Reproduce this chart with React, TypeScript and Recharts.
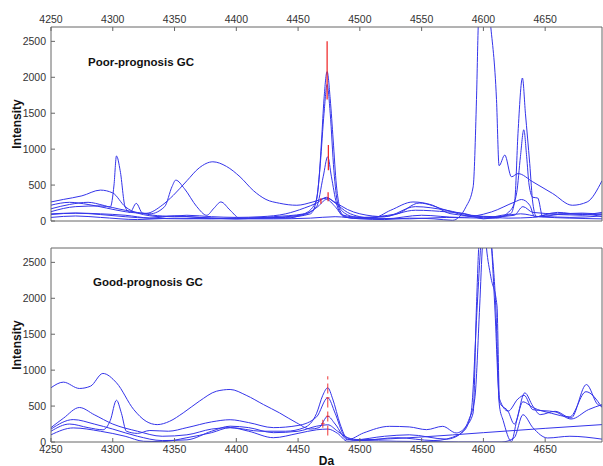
import React from "react";
import { LineChart, Line, XAxis, YAxis, ReferenceLine } from "recharts";

// mass axis (Da) and intensity ticks
const xTicks = [4250, 4300, 4350, 4400, 4450, 4500, 4550, 4600, 4650];
const yTicks = [0, 500, 1000, 1500, 2000, 2500];
const xDomain: [number, number] = [4250, 4696];
const yDomain: [number, number] = [0, 2700];

// poor-prognosis spectra, [Da, intensity]
const poorA = [
  [4250, 100], [4270, 110], [4290, 90], [4310, 60], [4330, 40], [4350, 70], [4370, 50], [4400, 30],
  [4430, 30], [4460, 40], [4480, 60], [4500, 30], [4520, 20], [4540, 40], [4560, 30], [4575, 10],
  [4586, 200], [4591.7, 475], [4594.4, 1690], [4596, 2800], [4600, 3600], [4605.7, 2750],
  [4610.6, 1690], [4612.7, 770], [4617.3, 918], [4622.7, 615], [4628, 660], [4640, 545],
  [4656, 383], [4672, 219], [4684, 265], [4696, 560],
];
const poorB = [
  [4250, 265], [4260, 300], [4275, 350], [4290, 430], [4300, 390], [4310, 200], [4320, 110],
  [4340, 60], [4360, 80], [4380, 60], [4400, 50], [4420, 60], [4440, 100], [4455, 180],
  [4465, 250], [4473, 330], [4480, 250], [4490, 120], [4500, 60], [4510, 40], [4525, 150],
  [4543, 265], [4559, 219], [4573, 103], [4600, 60], [4620, 40], [4640, 50], [4660, 120],
  [4680, 90], [4696, 120],
];
const poorC = [
  [4250, 170], [4265, 230], [4280, 260], [4292, 220], [4298, 196], [4301, 500], [4303, 905],
  [4306, 700], [4310, 196], [4314, 120], [4319, 245], [4324, 110], [4340, 70], [4360, 60],
  [4380, 40], [4400, 30], [4430, 60], [4455, 100], [4465, 200], [4470.3, 615], [4474, 894],
  [4477, 615], [4481, 250], [4486, 80], [4495, 40], [4520, 30], [4550, 80], [4580, 50],
  [4606.5, 126], [4625.4, 265], [4630.8, 299], [4637.5, 219], [4641.6, 56], [4650, 80],
  [4680, 100], [4696, 60],
];
const poorD = [
  [4250, 130], [4270, 200], [4290, 210], [4310, 150], [4330, 100], [4342, 200], [4348, 480],
  [4351, 569], [4358, 450], [4368, 200], [4376, 80], [4382, 180], [4387.5, 265], [4395, 150],
  [4403, 37], [4420, 40], [4440, 40], [4455, 100], [4464, 250], [4467, 600], [4469, 1127],
  [4471, 1700], [4473.5, 2080], [4476, 1700], [4478.4, 1127], [4481, 500], [4485, 150],
  [4495, 60], [4510, 40], [4540, 30], [4570, 50], [4600, 40], [4615, 80], [4622, 100],
  [4625.4, 290], [4628, 1220], [4631.6, 1990], [4634, 1500], [4637.5, 800], [4640, 250],
  [4643, 60], [4650, 60], [4670, 50], [4696, 70],
];
const poorE = [
  [4250, 220], [4265, 260], [4280, 230], [4295, 180], [4310, 130], [4327, 107], [4340, 220],
  [4349, 357], [4360, 560], [4370, 740], [4381, 824], [4392, 760], [4403, 615], [4414, 420],
  [4424, 300], [4435, 247], [4449, 219], [4462, 265], [4473, 317], [4480, 260], [4490, 160],
  [4500, 100], [4520, 60], [4545, 200], [4570, 150], [4590, 80], [4610, 60], [4625, 80],
  [4632, 200], [4640, 120], [4660, 100], [4680, 110], [4696, 90],
];
const poorF = [
  [4250, 90], [4270, 110], [4290, 100], [4310, 80], [4330, 40], [4360, 30], [4400, 40],
  [4440, 50], [4460, 100], [4465, 300], [4468, 800], [4471, 1500], [4473.5, 1900],
  [4476, 1500], [4479, 700], [4482, 250], [4487, 80], [4500, 50], [4530, 100], [4548, 250],
  [4570, 150], [4590, 60], [4610, 40], [4622, 150], [4627, 400], [4630, 900], [4632.7, 1270],
  [4635, 900], [4637, 500], [4640, 330], [4644, 320], [4648, 60], [4660, 90], [4680, 80],
  [4696, 100],
];
const poorG = [
  [4250, 50], [4270, 70], [4290, 50], [4320, 20], [4350, 40], [4380, 30], [4420, 40],
  [4455, 90], [4466, 200], [4473, 300], [4480, 200], [4487, 60], [4495, 40], [4520, 60],
  [4545, 150], [4571, 126], [4585, 103], [4600, 30], [4630, 100], [4645, 60], [4670, 40],
  [4696, 30],
];

// good-prognosis spectra
const goodA = [
  [4250, 755], [4260, 833], [4273, 745], [4282, 777], [4292, 954], [4303, 824], [4317, 451],
  [4327, 288], [4336, 242], [4346, 288], [4357, 405], [4370, 567], [4384, 707], [4395, 731],
  [4408, 650], [4422, 521], [4435, 405], [4449, 265], [4460, 180], [4467, 200], [4474, 358],
  [4480, 250], [4490, 32], [4503, 126], [4524, 218], [4540, 210], [4554, 172], [4567, 218],
  [4578, 126], [4586, 218], [4591.7, 405], [4594.4, 1894], [4596.5, 2800], [4602, 3500],
  [4606.5, 2750], [4609.2, 1894], [4613.2, 545], [4620, 427], [4625, 250], [4633.5, 684],
  [4640, 500], [4646, 381], [4658, 427], [4671, 335], [4683.4, 800], [4692.6, 521], [4696, 500],
];
const goodB = [
  [4250, 200], [4260, 330], [4273, 480], [4285, 380], [4300, 250], [4320, 150], [4340, 80],
  [4360, 100], [4380, 180], [4395, 200], [4420, 150], [4440, 150], [4455, 200], [4465, 400],
  [4470, 650], [4474, 755], [4478, 600], [4484, 250], [4490, 40], [4500, 20], [4530, 60],
  [4560, 20], [4580, 100], [4588, 300], [4593, 600], [4597, 1894], [4599.3, 2750],
  [4601, 3000], [4602.5, 2700], [4606, 2300], [4611, 1894], [4613, 600], [4620, 430],
  [4628, 600], [4633, 650], [4640, 450], [4658, 420], [4671, 320], [4685, 450], [4696, 520],
];
const goodC = [
  [4250, 150], [4265, 250], [4280, 200], [4292, 170], [4298, 300], [4303, 581], [4307, 400],
  [4311, 150], [4320, 120], [4330, 160], [4345, 150], [4360, 200], [4380, 280], [4395, 310],
  [4410, 270], [4430, 200], [4450, 230], [4465, 350], [4474, 615], [4480, 400], [4487, 100],
  [4495, 30], [4520, 80], [4540, 100], [4570, 40], [4584, 150], [4590, 400], [4595, 1894],
  [4597.9, 2750], [4602, 3300], [4606.5, 2750], [4610, 1894], [4613, 500], [4616, 300],
  [4622.7, 8], [4627, 300], [4632, 560], [4640, 480], [4655, 400], [4670, 350], [4683, 700],
  [4696, 480],
];
const goodD = [
  [4250, 180], [4268, 312], [4285, 250], [4300, 180], [4320, 80], [4340, 20], [4360, 30],
  [4380, 150], [4395, 220], [4410, 200], [4430, 130], [4450, 150], [4465, 220], [4474, 240],
  [4482, 150], [4490, 60], [4500, 32], [4550, 70], [4600, 130], [4650, 190], [4696, 242],
];
const goodE = [
  [4250, 100], [4268, 196], [4290, 150], [4310, 80], [4325, 10], [4340, 5], [4360, 60],
  [4380, 130], [4395, 200], [4410, 150], [4430, 60], [4450, 120], [4465, 170], [4474, 180],
  [4482, 120], [4490, 10], [4500, 20], [4530, 10], [4560, 5], [4580, 0], [4600, 0],
  [4615, 0], [4625, 60], [4632, 380], [4640, 200], [4652, 56], [4670, 80], [4696, 40],
];

// red marker bars [Da, from, to]
const poorMarks = [
  [4473.5, 1690, 2500], [4474.5, 705, 1058], [4474.3, 275, 400], [4468.5, 240, 315],
];
const goodMarks = [[4474, 90, 916], [4470, 200, 311]];
const goodCrosses = [[4474, 615], [4474, 358], [4470, 255]];

const poorSeries = [poorA, poorB, poorC, poorD, poorE, poorF, poorG];
const goodSeries = [goodA, goodB, goodC, goodD, goodE];

const font = "'Liberation Sans', Arial, sans-serif";
const blue = "#3434ea";
const red = "#ee2020";
const axisColor = "#666";
const tickStyle = { fontSize: 10.5, fill: "#333", fontFamily: font };
const toPts = (s: number[][]) => s.map(([x, y]) => ({ x, y }));

function lines(series: number[][][]) {
  return series.map((s, i) => (
    <Line
      key={i}
      data={toPts(s)}
      xAxisId="t"
      yAxisId="l"
      dataKey="y"
      type="monotone"
      stroke={blue}
      strokeWidth={1}
      dot={false}
      isAnimationActive={false}
    />
  ));
}

function yAxes() {
  return [
    <YAxis
      key="l"
      yAxisId="l"
      orientation="left"
      type="number"
      domain={yDomain}
      ticks={yTicks}
      interval={0}
      allowDataOverflow
      width={51}
      tickSize={-4}
      tickMargin={9}
      tick={tickStyle}
      stroke={axisColor}
      label={{
        value: "Intensity",
        angle: -90,
        position: "insideLeft",
        offset: 17,
        style: { textAnchor: "middle", fontSize: 12, fontWeight: 700, fill: "#111", fontFamily: font },
      }}
    />,
    <YAxis
      key="r"
      yAxisId="r"
      orientation="right"
      type="number"
      domain={yDomain}
      ticks={yTicks}
      interval={0}
      allowDataOverflow
      width={1}
      tickSize={-4}
      tick={false}
      stroke={axisColor}
    />,
  ];
}

const titleStyle: React.CSSProperties = {
  position: "absolute",
  fontFamily: font,
  fontSize: 11.5,
  fontWeight: 700,
  lineHeight: "14px",
  color: "#111",
};

export default function App() {
  return (
    <div style={{ position: "absolute", left: 0, top: 0, width: 603, height: 466, background: "#fff" }}>
      <div style={{ position: "absolute", left: 0, top: 0 }}>
        <LineChart width={603} height={230} margin={{ top: 0, right: 0, bottom: 8, left: 0 }}>
          <XAxis
            xAxisId="t"
            orientation="top"
            type="number"
            dataKey="x"
            domain={xDomain}
            ticks={xTicks}
            interval={0}
            allowDataOverflow
            height={27}
            tickSize={-4}
            tickMargin={8}
            tick={tickStyle}
            stroke={axisColor}
          />
          <XAxis
            xAxisId="b"
            orientation="bottom"
            type="number"
            dataKey="x"
            domain={xDomain}
            ticks={xTicks}
            interval={0}
            allowDataOverflow
            height={1}
            tickSize={-4}
            tick={false}
            stroke={axisColor}
          />
          {yAxes()}
          {lines(poorSeries)}
          {poorMarks.map(([x, a, b], i) => (
            <ReferenceLine
              key={"m" + i}
              xAxisId="t"
              yAxisId="l"
              segment={[{ x, y: a }, { x, y: b }]}
              stroke={red}
              strokeWidth={1.2}
            />
          ))}
        </LineChart>
        <div style={{ ...titleStyle, left: 88, top: 55 }}>Poor-prognosis GC</div>
      </div>
      <div style={{ position: "absolute", left: 0, top: 226 }}>
        <LineChart width={603} height={240} margin={{ top: 21, right: 0, bottom: 0, left: 0 }}>
          <XAxis
            xAxisId="t"
            orientation="top"
            type="number"
            dataKey="x"
            domain={xDomain}
            ticks={xTicks}
            interval={0}
            allowDataOverflow
            height={1}
            tickSize={-4}
            tick={false}
            stroke={axisColor}
          />
          <XAxis
            xAxisId="b"
            orientation="bottom"
            type="number"
            dataKey="x"
            domain={xDomain}
            ticks={xTicks}
            interval={0}
            allowDataOverflow
            height={24}
            tickSize={-4}
            tickMargin={8}
            tick={tickStyle}
            stroke={axisColor}
            label={{
              value: "Da",
              position: "insideBottom",
              offset: 1,
              style: { fontSize: 12, fontWeight: 700, fill: "#111", fontFamily: font },
            }}
          />
          {yAxes()}
          {lines(goodSeries)}
          {goodMarks.map(([x, a, b], i) => (
            <ReferenceLine
              key={"m" + i}
              xAxisId="t"
              yAxisId="l"
              segment={[{ x, y: a }, { x, y: b }]}
              stroke={red}
              strokeOpacity={0.75}
              strokeDasharray="10 4"
              strokeWidth={1.2}
            />
          ))}
          {goodCrosses.map(([x, y], i) => (
            <ReferenceLine
              key={"c" + i}
              xAxisId="t"
              yAxisId="l"
              segment={[{ x: x - 1.5, y }, { x: x + 1.5, y }]}
              stroke={red}
              strokeOpacity={0.75}
              strokeWidth={1}
            />
          ))}
        </LineChart>
        <div style={{ ...titleStyle, left: 93, top: 49 }}>Good-prognosis GC</div>
      </div>
    </div>
  );
}
